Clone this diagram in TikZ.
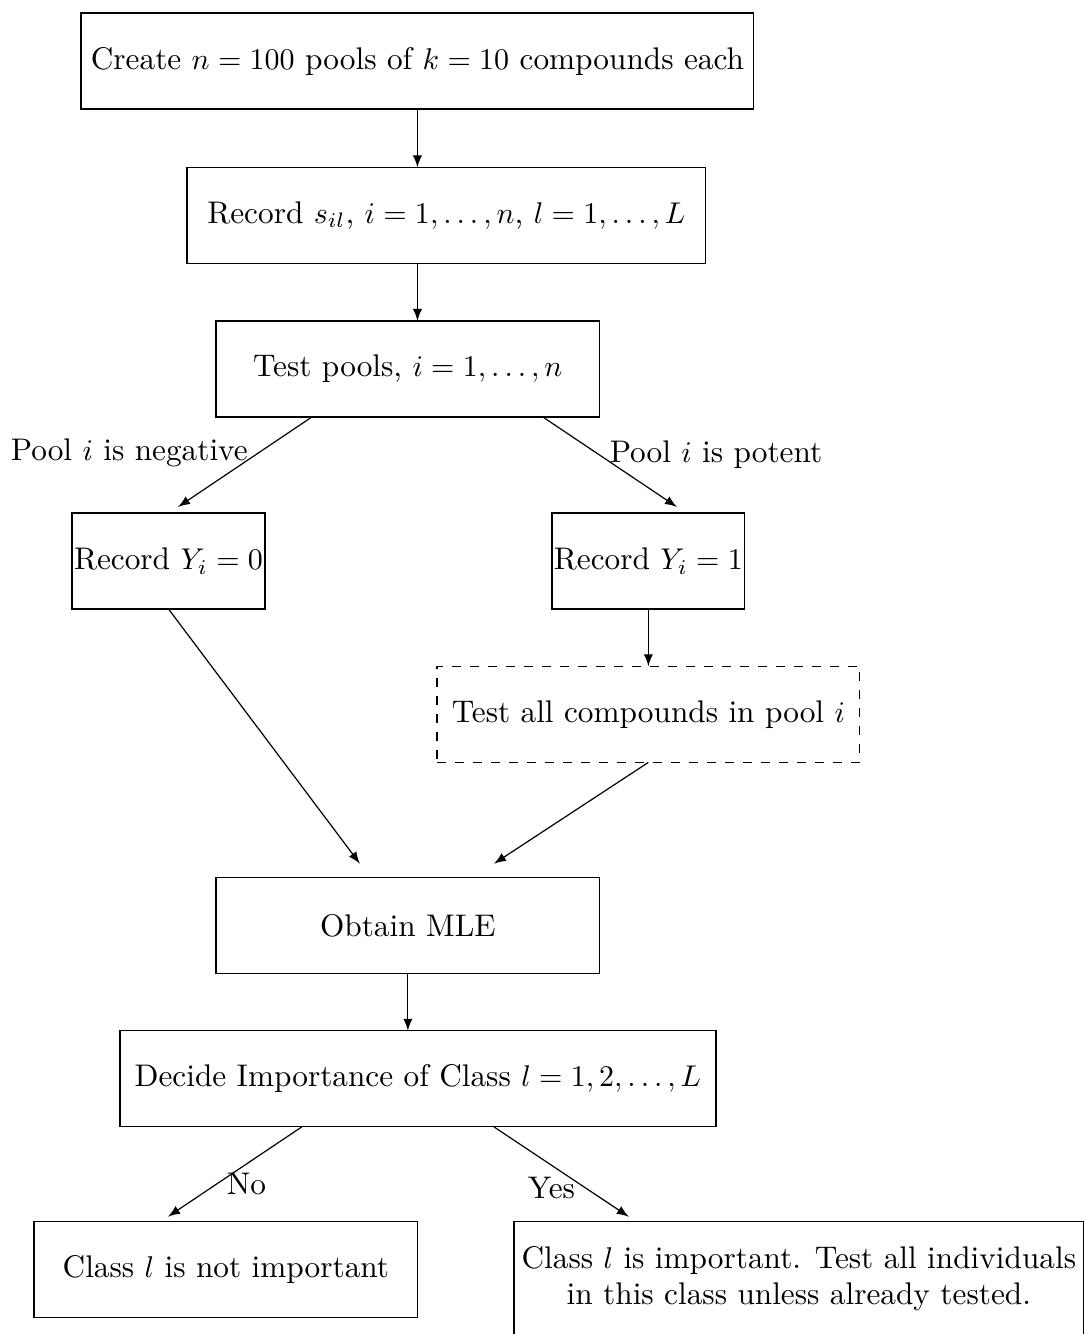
\documentclass[tikz,border=0pt]{standalone}
\usepackage{amsmath}
\usepackage{amssymb}
\usetikzlibrary{arrows}

\begin{document}
\begin{tikzpicture}
  [font=\fontsize{10.43pt}{12pt}\selectfont,
   block/.style={rectangle,draw=black,align=center,inner sep=0pt,
                 outer sep=0,minimum height=1.125cm},
   dashblock/.style={block,dashed},
   arr/.style={-latex}]
  \useasboundingbox (0,0) rectangle (12.71,-15.63);
  \node[block,minimum width=7.884cm] (create) at (4.891,-0.715)
    {Create $n=100$ pools of $k=10$ compounds each};
  \node[block,minimum width=6.080cm] (record) at (5.230,-2.524)
    {Record $s_{il}$, $i=1,\ldots,n$, $l=1,\ldots,L$};
  \node[block,minimum width=4.498cm] (test) at (4.779,-4.323)
    {Test pools, $i=1,\ldots,n$};
  \node[block,minimum width=2.261cm] (neg) at (1.974,-6.572) {Record $Y_i=0$};
  \node[block,minimum width=2.261cm] (pos) at (7.597,-6.572) {Record $Y_i=1$};
  \node[dashblock,minimum width=4.955cm] (all) at (7.597,-8.370)
    {Test all compounds in pool $i$};
  \node[block,minimum width=4.498cm] (mle) at (4.779,-10.847) {Obtain MLE};
  \node[block,minimum width=6.982cm] (decide) at (4.897,-12.640)
    {Decide Importance of Class $l=1,2,\ldots,L$};
  \node[block,minimum width=4.498cm] (no) at (2.647,-14.877)
    {Class $l$ is not important};
  \node[block,minimum width=6.677cm,minimum height=1.335cm] (yes) at (9.360,-14.983)
    {Class $l$ is important. Test all individuals\\ in this class unless already tested.};
  \draw[arr] (create.south) to (create.south |- record.north);
  \draw[arr] (create.south |- record.south) to (create.south |- test.north);
  \draw[arr] ([xshift=-32pt]test.south) to
    node[pos=0.40,left] {Pool $i$ is negative} ([xshift=3.2pt,yshift=2pt]neg.north);
  \draw[arr] ([xshift=45pt]test.south) to
    node[pos=0.42,right] {Pool $i$ is potent} ([xshift=9.5pt,yshift=2pt]pos.north);
  \draw[arr] (pos.south) to (all.north);
  \draw[arr] (neg.south) to ([xshift=-16pt,yshift=4.7pt]mle.north);
  \draw[arr] (all.south) to ([xshift=28.7pt,yshift=4.7pt]mle.north);
  \draw[arr] (mle.south) to (mle.south |- decide.north);
  \draw[arr] ([xshift=-38.7pt]decide.south) to
    node[pos=0.64,right] {No} ([xshift=-19.3pt,yshift=1.7pt]no.north);
  \draw[arr] ([xshift=25.3pt]decide.south) to
    node[pos=0.68,left] {Yes} ([xshift=-56.7pt,yshift=1.7pt]yes.north);
\end{tikzpicture}
\end{document}
